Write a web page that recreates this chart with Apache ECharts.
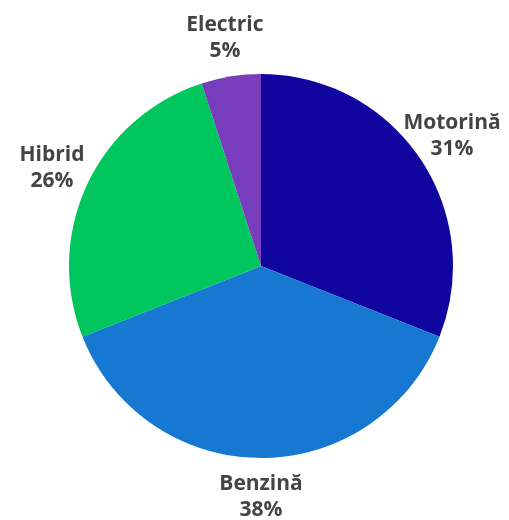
<!DOCTYPE html>
<html>
<head>
<meta charset="utf-8">
<script src="https://cdn.jsdelivr.net/npm/echarts@6/dist/echarts.min.js"></script>
<style>
  html, body { margin: 0; padding: 0; background: #fff; }
  #chart { width: 509px; height: 520px; }
</style>
</head>
<body>
<div id="chart"></div>
<script>
const CATEGORIES = ["Motorină", "Benzină", "Hibrid", "Electric"];
const SHARES = [31, 38, 26, 5];
const COLORS = ["#10069f", "#1778d2", "#00c65e", "#773dbd"];

const chart = echarts.init(document.getElementById("chart"), null, { renderer: "canvas" });

const data = CATEGORIES.map((name, i) => ({
  name,
  value: SHARES[i],
  itemStyle: { color: COLORS[i] },
}));

// transparent ring only carries the centered labels outside the pie
const labelData = CATEGORIES.map((name, i) => ({
  name,
  value: SHARES[i],
  itemStyle: { color: "rgba(0,0,0,0)" },
}));

chart.setOption({
  animation: false,
  series: [
    {
      type: "pie",
      center: [261, 266],
      radius: [0, 192],
      startAngle: 90,
      data,
      label: { show: false },
      labelLine: { show: false },
      silent: true,
    },
    {
      type: "pie",
      center: [261, 266],
      radius: [210, 246],
      startAngle: 90,
      data: labelData,
      silent: true,
      label: {
        show: true,
        position: "inside",
        formatter: "{b}\n{c}%",
        color: "#444",
        fontFamily: "Open Sans",
        fontWeight: "bold",
        fontSize: 21,
        lineHeight: 26,
        align: "center",
      },
      labelLine: { show: false },
    },
  ],
});
</script>
</body>
</html>
